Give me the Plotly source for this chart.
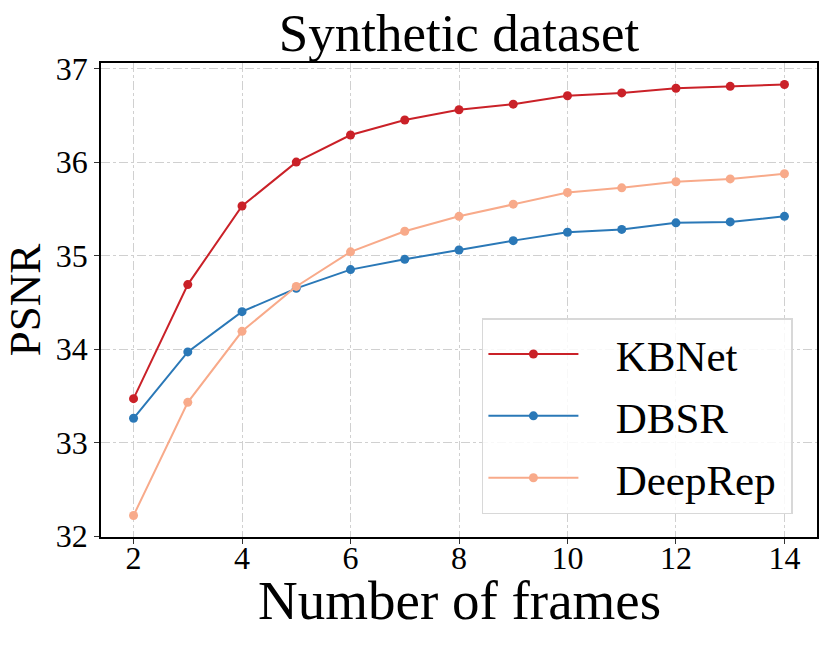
import plotly.graph_objects as go

frames = [2, 3, 4, 5, 6, 7, 8, 9, 10, 11, 12, 13, 14]
kbnet = [33.47, 34.69, 35.53, 36.00, 36.29, 36.45, 36.56, 36.62, 36.71, 36.74, 36.79, 36.81, 36.83]
dbsr = [33.26, 33.97, 34.40, 34.65, 34.85, 34.96, 35.06, 35.16, 35.25, 35.28, 35.35, 35.36, 35.42]
deeprep = [32.22, 33.43, 34.19, 34.67, 35.04, 35.26, 35.42, 35.55, 35.675, 35.725, 35.79, 35.82, 35.875]

series = [
    ("KBNet", kbnet, "#ca2128"),
    ("DBSR", dbsr, "#2a78b7"),
    ("DeepRep", deeprep, "#f8aa8a"),
]

FONT = "Liberation Serif, Times New Roman, serif"
NBSP = "\u00a0"

fig = go.Figure()
for name, values, color in series:
    fig.add_trace(
        go.Scatter(
            x=frames,
            y=values,
            name=NBSP * 3 + name + NBSP,
            legendgroup=name,
            mode="lines+markers",
            line=dict(color=color, width=2),
            marker=dict(color=color, size=9),
        )
    )

axis_style = dict(
    automargin=False,
    showline=True,
    linecolor="black",
    linewidth=1.5,
    mirror=True,
    ticks="outside",
    ticklen=5,
    tickwidth=1.2,
    tickcolor="#333",
    showgrid=True,
    gridcolor="#d0d0d0",
    griddash="dashdot",
    gridwidth=1,
    zeroline=False,
)

fig.update_layout(
    width=830,
    height=646,
    margin=dict(l=101, r=13, t=63, b=109),
    paper_bgcolor="white",
    plot_bgcolor="white",
    font=dict(family=FONT, color="black"),
    title=dict(
        text="Synthetic dataset",
        font=dict(family=FONT, size=53, color="black"),
        x=0.5,
        xref="paper",
        xanchor="center",
        y=1 - 32 / 646,
        yref="container",
        yanchor="middle",
    ),
    xaxis=dict(
        axis_style,
        range=[1.4, 14.6],
        tickmode="array",
        tickvals=[2, 4, 6, 8, 10, 12, 14],
        tickfont=dict(family=FONT, size=32, color="black"),
        ticklabelstandoff=-13,
    ),
    yaxis=dict(
        axis_style,
        range=[31.99, 37.06],
        tickmode="array",
        tickvals=[32, 33, 34, 35, 36, 37],
        tickfont=dict(family=FONT, size=32, color="black"),
        title=dict(text="PSNR", font=dict(family=FONT, size=45), standoff=12),
    ),
    legend=dict(
        x=0.532,
        y=0.462,
        xanchor="left",
        yanchor="top",
        bgcolor="rgba(255,255,255,0.85)",
        bordercolor="#d8d8d8",
        borderwidth=1.5,
        font=dict(family=FONT, size=43, color="black"),
        itemwidth=90,
        tracegroupgap=3,
    ),
)

# x-axis title as an annotation so it can sit closer to the tick labels
fig.add_annotation(
    text="Number of frames",
    xref="paper",
    yref="paper",
    x=0.5,
    y=-0.135,
    xanchor="center",
    yanchor="middle",
    showarrow=False,
    font=dict(family=FONT, size=55, color="black"),
)

fig.write_html(
    "out.html",
    config={"displayModeBar": False},
    post_script="document.body.style.margin='0';",
)
